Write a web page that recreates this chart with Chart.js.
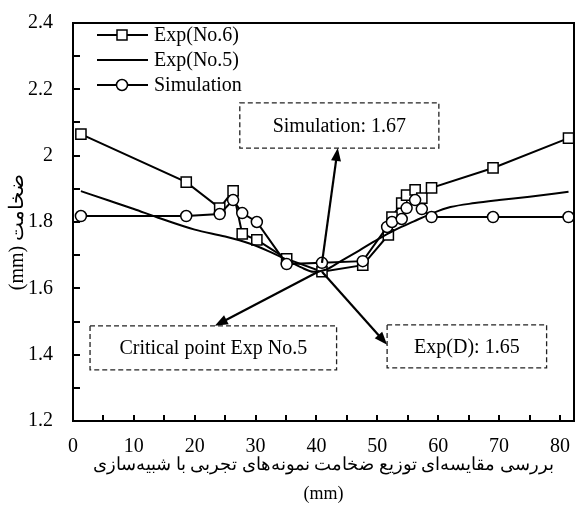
<!DOCTYPE html>
<html>
<head>
<meta charset="utf-8">
<script src="https://cdn.jsdelivr.net/npm/chart.js@4.4.0/dist/chart.umd.min.js"></script>
<style>
  html, body { margin: 0; padding: 0; background: #fff; overflow: hidden; }
  canvas { display: block; }
</style>
</head>
<body>
<canvas id="grafico_espessura" width="576" height="510"></canvas>
<script>
// Exp(No.6) - quadrados
var exp6_x = [1.3, 18.6, 24.1, 26.3, 27.8, 30.2, 35.1, 40.9, 47.6, 51.8, 52.4, 54.0, 54.8, 56.2, 57.3, 58.9, 69.0, 81.4];
var exp6_y = [2.065, 1.92, 1.842, 1.894, 1.764, 1.746, 1.689, 1.65, 1.67, 1.761, 1.815, 1.857, 1.881, 1.897, 1.872, 1.903, 1.963, 2.053];

// Simulation - circulos
var sim_x = [1.3, 18.6, 24.1, 26.3, 27.8, 30.2, 35.1, 40.9, 47.6, 51.6, 52.4, 54.0, 54.8, 56.2, 57.3, 58.9, 69.0, 81.4];
var sim_y = [1.818, 1.818, 1.824, 1.866, 1.827, 1.80, 1.673, 1.677, 1.682, 1.785, 1.80, 1.809, 1.842, 1.866, 1.839, 1.815, 1.815, 1.815];

// Exp(No.5) - so a linha
var exp5_x = [1.3, 6, 10, 14, 20, 25, 29, 32, 35, 37.5, 39.5, 41.5, 44, 47, 50, 53, 56, 59, 62, 66, 70, 75, 81.4];
var exp5_y = [1.893, 1.864, 1.839, 1.813, 1.777, 1.756, 1.735, 1.713, 1.687, 1.663, 1.65, 1.656, 1.682, 1.714, 1.747, 1.777, 1.802, 1.826, 1.845, 1.857, 1.866, 1.876, 1.891];

var x_ticks = [0, 10, 20, 30, 40, 50, 60, 70, 80];
var y_ticks = [1.2, 1.4, 1.6, 1.8, 2, 2.2, 2.4];
var y_labels = ["1.2", "1.4", "1.6", "1.8", "2", "2.2", "2.4"];

var fonte = "'Liberation Serif', 'Times New Roman', serif";

function pontos(xs, ys) {
  var lista = [];
  for (var i = 0; i < xs.length; i++) {
    lista.push({ x: xs[i], y: ys[i] });
  }
  return lista;
}

// caixas tracejadas + setas (coordenadas dos eixos)
var notas = [
  { texto: "Simulation: 1.67", x0: 27.4, x1: 60.1, y0: 2.023, y1: 2.159,
    de: [40.9, 1.677], para: [43.5, 2.023] },
  { texto: "Critical point Exp No.5", x0: 2.8, x1: 43.3, y0: 1.354, y1: 1.487,
    de: [40.5, 1.652], para: [23.3, 1.487] },
  { texto: "Exp(D): 1.65", x0: 51.6, x1: 77.8, y0: 1.36, y1: 1.49,
    de: [40.9, 1.65], para: [51.6, 1.43] },
];

function seta(ctx, x1, y1, x2, y2) {
  var ang = Math.atan2(y2 - y1, x2 - x1);
  var tam = 13, larg = 5;
  ctx.beginPath();
  ctx.moveTo(x1, y1);
  ctx.lineTo(x2 - tam * 0.8 * Math.cos(ang), y2 - tam * 0.8 * Math.sin(ang));
  ctx.stroke();
  ctx.beginPath();
  ctx.moveTo(x2, y2);
  ctx.lineTo(x2 - tam * Math.cos(ang) + larg * Math.sin(ang), y2 - tam * Math.sin(ang) - larg * Math.cos(ang));
  ctx.lineTo(x2 - tam * Math.cos(ang) - larg * Math.sin(ang), y2 - tam * Math.sin(ang) + larg * Math.cos(ang));
  ctx.closePath();
  ctx.fill();
}

var extras = {
  id: "extras",
  // area do grafico ate quase a borda direita
  afterLayout: function (chart) {
    var a = chart.chartArea;
    var sx = chart.scales.x;
    a.right = chart.width - 2;
    a.width = a.right - a.left;
    sx.right = a.right;
    sx.width = a.width;
    sx.configure();
  },
  afterDatasetsDraw: function (chart) {
    var ctx = chart.ctx;
    var a = chart.chartArea;
    var sx = chart.scales.x;
    var sy = chart.scales.y;
    ctx.save();
    ctx.strokeStyle = "#000";
    ctx.fillStyle = "#000";

    // moldura + ticks para dentro
    ctx.lineWidth = 2;
    ctx.strokeRect(a.left, a.top, a.right - a.left, a.bottom - a.top);
    ctx.beginPath();
    for (var v = 5; v < 82; v += 5) {
      var px = Math.round(sx.getPixelForValue(v));
      ctx.moveTo(px, a.bottom);
      ctx.lineTo(px, a.bottom - 6);
    }
    for (var k = 1; k < 12; k++) {
      var py = Math.round(sy.getPixelForValue(1.2 + k * 0.1));
      ctx.moveTo(a.left, py);
      ctx.lineTo(a.left + 7, py);
    }
    ctx.stroke();

    // notas
    ctx.font = "20px " + fonte;
    ctx.textAlign = "center";
    ctx.textBaseline = "middle";
    for (var i = 0; i < notas.length; i++) {
      var n = notas[i];
      var bx0 = sx.getPixelForValue(n.x0), bx1 = sx.getPixelForValue(n.x1);
      var by0 = sy.getPixelForValue(n.y1), by1 = sy.getPixelForValue(n.y0);
      ctx.lineWidth = 1.3;
      ctx.strokeStyle = "#222";
      ctx.setLineDash([5, 3]);
      ctx.strokeRect(bx0, by0, bx1 - bx0, by1 - by0);
      ctx.setLineDash([]);
      ctx.fillStyle = "#000";
      ctx.fillText(n.texto, (bx0 + bx1) / 2, (by0 + by1) / 2 + 1);
      ctx.lineWidth = 2.2;
      ctx.strokeStyle = "#000";
      seta(ctx, sx.getPixelForValue(n.de[0]), sy.getPixelForValue(n.de[1]),
        sx.getPixelForValue(n.para[0]), sy.getPixelForValue(n.para[1]));
    }

    // legenda
    var itens = chart.data.datasets;
    ctx.textAlign = "left";
    for (var j = 0; j < itens.length; j++) {
      var ds = itens[j];
      var ly = 35 + 25 * j;
      ctx.lineWidth = 2;
      ctx.strokeStyle = "#000";
      ctx.beginPath();
      ctx.moveTo(97, ly);
      ctx.lineTo(148, ly);
      ctx.stroke();
      if (ds.pointRadius > 0) {
        ctx.fillStyle = "#fff";
        ctx.lineWidth = 1.5;
        ctx.beginPath();
        if (ds.pointStyle === "rect") {
          ctx.rect(117, ly - 5, 10, 10);
        } else {
          ctx.arc(122, ly, 5.5, 0, Math.PI * 2);
        }
        ctx.fill();
        ctx.stroke();
      }
      ctx.fillStyle = "#000";
      ctx.fillText(ds.label, 154, ly + 1);
    }
    ctx.restore();
  },
};

const g_espessura = document.getElementById("grafico_espessura");

new Chart(g_espessura, {
  type: "line",
  data: {
    datasets: [
      {
        label: "Exp(No.6)",
        data: pontos(exp6_x, exp6_y),
        borderColor: "#000",
        borderWidth: 2,
        pointStyle: "rect",
        pointRadius: 7.2,
        pointBackgroundColor: "#fff",
        pointBorderColor: "#000",
        pointBorderWidth: 1.5,
        tension: 0,
        order: 2,
      },
      {
        label: "Exp(No.5)",
        data: pontos(exp5_x, exp5_y),
        borderColor: "#000",
        borderWidth: 2,
        pointRadius: 0,
        cubicInterpolationMode: "monotone",
        order: 1,
      },
      {
        label: "Simulation",
        data: pontos(sim_x, sim_y),
        borderColor: "#000",
        borderWidth: 2,
        pointStyle: "circle",
        pointRadius: 5.5,
        pointBackgroundColor: "#fff",
        pointBorderColor: "#000",
        pointBorderWidth: 1.5,
        tension: 0,
        order: 0,
      },
    ],
  },
  options: {
    responsive: false,
    animation: false,
    layout: { padding: { top: 23, right: 2, left: 0, bottom: 0 } },
    plugins: {
      legend: { display: false },
      tooltip: { enabled: false },
    },
    scales: {
      x: {
        type: "linear",
        min: 0,
        max: 82.3,
        grid: { display: false, drawTicks: false },
        border: { display: false },
        afterBuildTicks: function (s) {
          s.ticks = x_ticks.map(function (v) { return { value: v }; });
        },
        afterFit: function (s) {
          s.height = 89;
          s.paddingLeft = 0;
          s.paddingRight = 0;
        },
        ticks: {
          color: "#000",
          padding: 14,
          maxRotation: 0,
          font: { family: fonte, size: 20 },
        },
        title: {
          display: true,
          text: ["بررسی مقایسه‌ای توزیع ضخامت نمونه‌های تجربی با شبیه‌سازی", "(mm)"],
          color: "#000",
          font: { family: fonte, size: 18, lineHeight: "29px" },
          padding: { top: 0, bottom: 1 },
        },
      },
      y: {
        type: "linear",
        min: 1.2,
        max: 2.4,
        grid: { display: false, drawTicks: false },
        border: { display: false },
        afterBuildTicks: function (s) {
          s.ticks = y_ticks.map(function (v) { return { value: v }; });
        },
        afterFit: function (s) {
          s.width = 73;
          s.paddingTop = 0;
          s.paddingBottom = 0;
        },
        ticks: {
          color: "#000",
          padding: 20,
          font: { family: fonte, size: 20 },
          callback: function (v, i) { return y_labels[i]; },
        },
        title: {
          display: true,
          text: "(mm) ضخامت\u00A0\u00A0\u00A0\u00A0",
          color: "#000",
          font: { family: fonte, size: 20 },
          padding: { top: 6, bottom: 0 },
        },
      },
    },
  },
  plugins: [extras],
});
</script>
</body>
</html>
